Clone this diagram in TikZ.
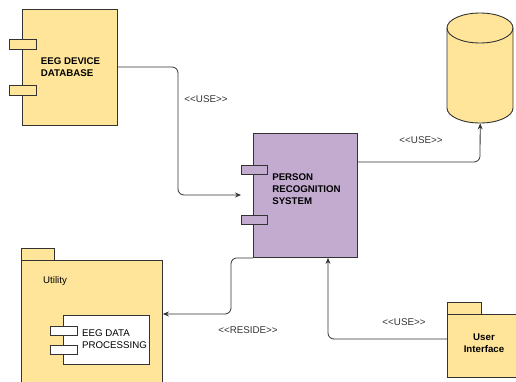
\documentclass[tikz,border=0pt]{standalone}
\usepackage{fontspec}
\setmainfont{Liberation Sans}
\usetikzlibrary{arrows.meta,calc}
\definecolor{ylw}{HTML}{FFE599}
\definecolor{prp}{HTML}{C3ABD0}
\definecolor{strk}{HTML}{333333}
\tikzset{
  box/.style={draw=strk, line width=0.9pt, rectangle, inner sep=0pt, anchor=north west},
  ybox/.style={box, fill=ylw},
  pbox/.style={box, fill=prp},
  wbox/.style={box, fill=white},
  conn/.style={draw=strk, line width=0.8pt, rounded corners=6pt},
  arr/.style={conn, -{Stealth[length=6pt,width=5pt]}},
  lbl/.style={font=\fontsize{9.7}{12}\selectfont\bfseries, align=left, inner sep=0pt},
  stereo/.style={font=\fontsize{9.8}{11}\selectfont, inner sep=0pt, text=strk},
  plain/.style={font=\fontsize{9.7}{12}\selectfont, align=left, inner sep=0pt}
}
\begin{document}
\begin{tikzpicture}[x=1pt,y=-1pt]
\useasboundingbox (0,0) rectangle (516,381);
\begin{scope}
\clip (0,0) rectangle (516,381);
% EEG device database
\node[ybox, minimum width=95pt, minimum height=116pt] (db) at (22,9) {};
\node[ybox, minimum width=27pt, minimum height=10pt] (dbp1) at (9,39) {};
\node[ybox, minimum width=27pt, minimum height=10pt] (dbp2) at (9,85) {};
\node[lbl] (dbt) at (70.5,67) {EEG DEVICE\\DATABASE};
% Person recognition system
\node[pbox, minimum width=104pt, minimum height=124pt] (prs) at (253,133) {};
\node[pbox, minimum width=26pt, minimum height=9pt] (prsp1) at (241,165) {};
\node[pbox, minimum width=26pt, minimum height=9pt] (prsp2) at (241,215) {};
\node[lbl] (prst) at (306.5,189) {PERSON\\RECOGNITION\\SYSTEM};
% Cylinder
\node[inner sep=0pt, minimum width=66pt, minimum height=110pt, anchor=north west] (cyl) at (447,13) {};
\path[draw=strk, fill=ylw, line width=0.9pt]
  (447,28) -- (447,108) arc[start angle=180, end angle=0, x radius=33, y radius=15]
  -- (513,28) arc[start angle=0, end angle=-180, x radius=33, y radius=15] -- cycle;
\draw[strk, line width=0.9pt] (447,28) arc[start angle=180, end angle=0, x radius=33, y radius=15];
% Utility package
\node[ybox, minimum width=33pt, minimum height=12pt] (utab) at (21,248) {};
\node[ybox, minimum width=141pt, minimum height=130pt] (util) at (21,260) {};
\node[plain, anchor=west] (utilt) at (43,281) {Utility};
\node[wbox, minimum width=86pt, minimum height=49pt] (edp) at (63,315) {};
\node[wbox, minimum width=27pt, minimum height=9pt] (edpp1) at (50,326) {};
\node[wbox, minimum width=27pt, minimum height=9pt] (edpp2) at (50,345) {};
\node[plain, anchor=west] (edpt) at (82,339) {EEG DATA\\PROCESSING};
% User interface package
\node[ybox, minimum width=34pt, minimum height=12pt] (uitab) at (447,302) {};
\node[ybox, minimum width=76pt, minimum height=63pt] (ui) at (447,314) {};
\node[lbl, align=center] (uit) at (484,343) {User\\Interface};
\end{scope}
% connectors
\coordinate (c0) at (117,67);
\coordinate (c1) at (178,195);
\coordinate (prsin) at (241,195);
\draw[arr] (db.east |- c0) -| (c1) -- (prsin);
\node[stereo] (l1) at (206,99) {<{}<USE>{}>};
\coordinate (c2) at (480,162);
\draw[arr] (prs.east |- c2) -- (c2) -- (cyl.south);
\node[stereo] (l2) at (421,140) {<{}<USE>{}>};
\coordinate (c3) at (231,314);
\draw[arr] (prs.south west) -| (c3) -- (c3 -| util.east);
\node[stereo] (l3) at (248,330) {<{}<RESIDE>{}>};
\coordinate (c4) at (328,339);
\draw[arr] (c4 -| ui.west) -- (c4) -- (c4 |- prs.south);
\node[stereo] (l4) at (404,322) {<{}<USE>{}>};
\end{tikzpicture}
\end{document}
